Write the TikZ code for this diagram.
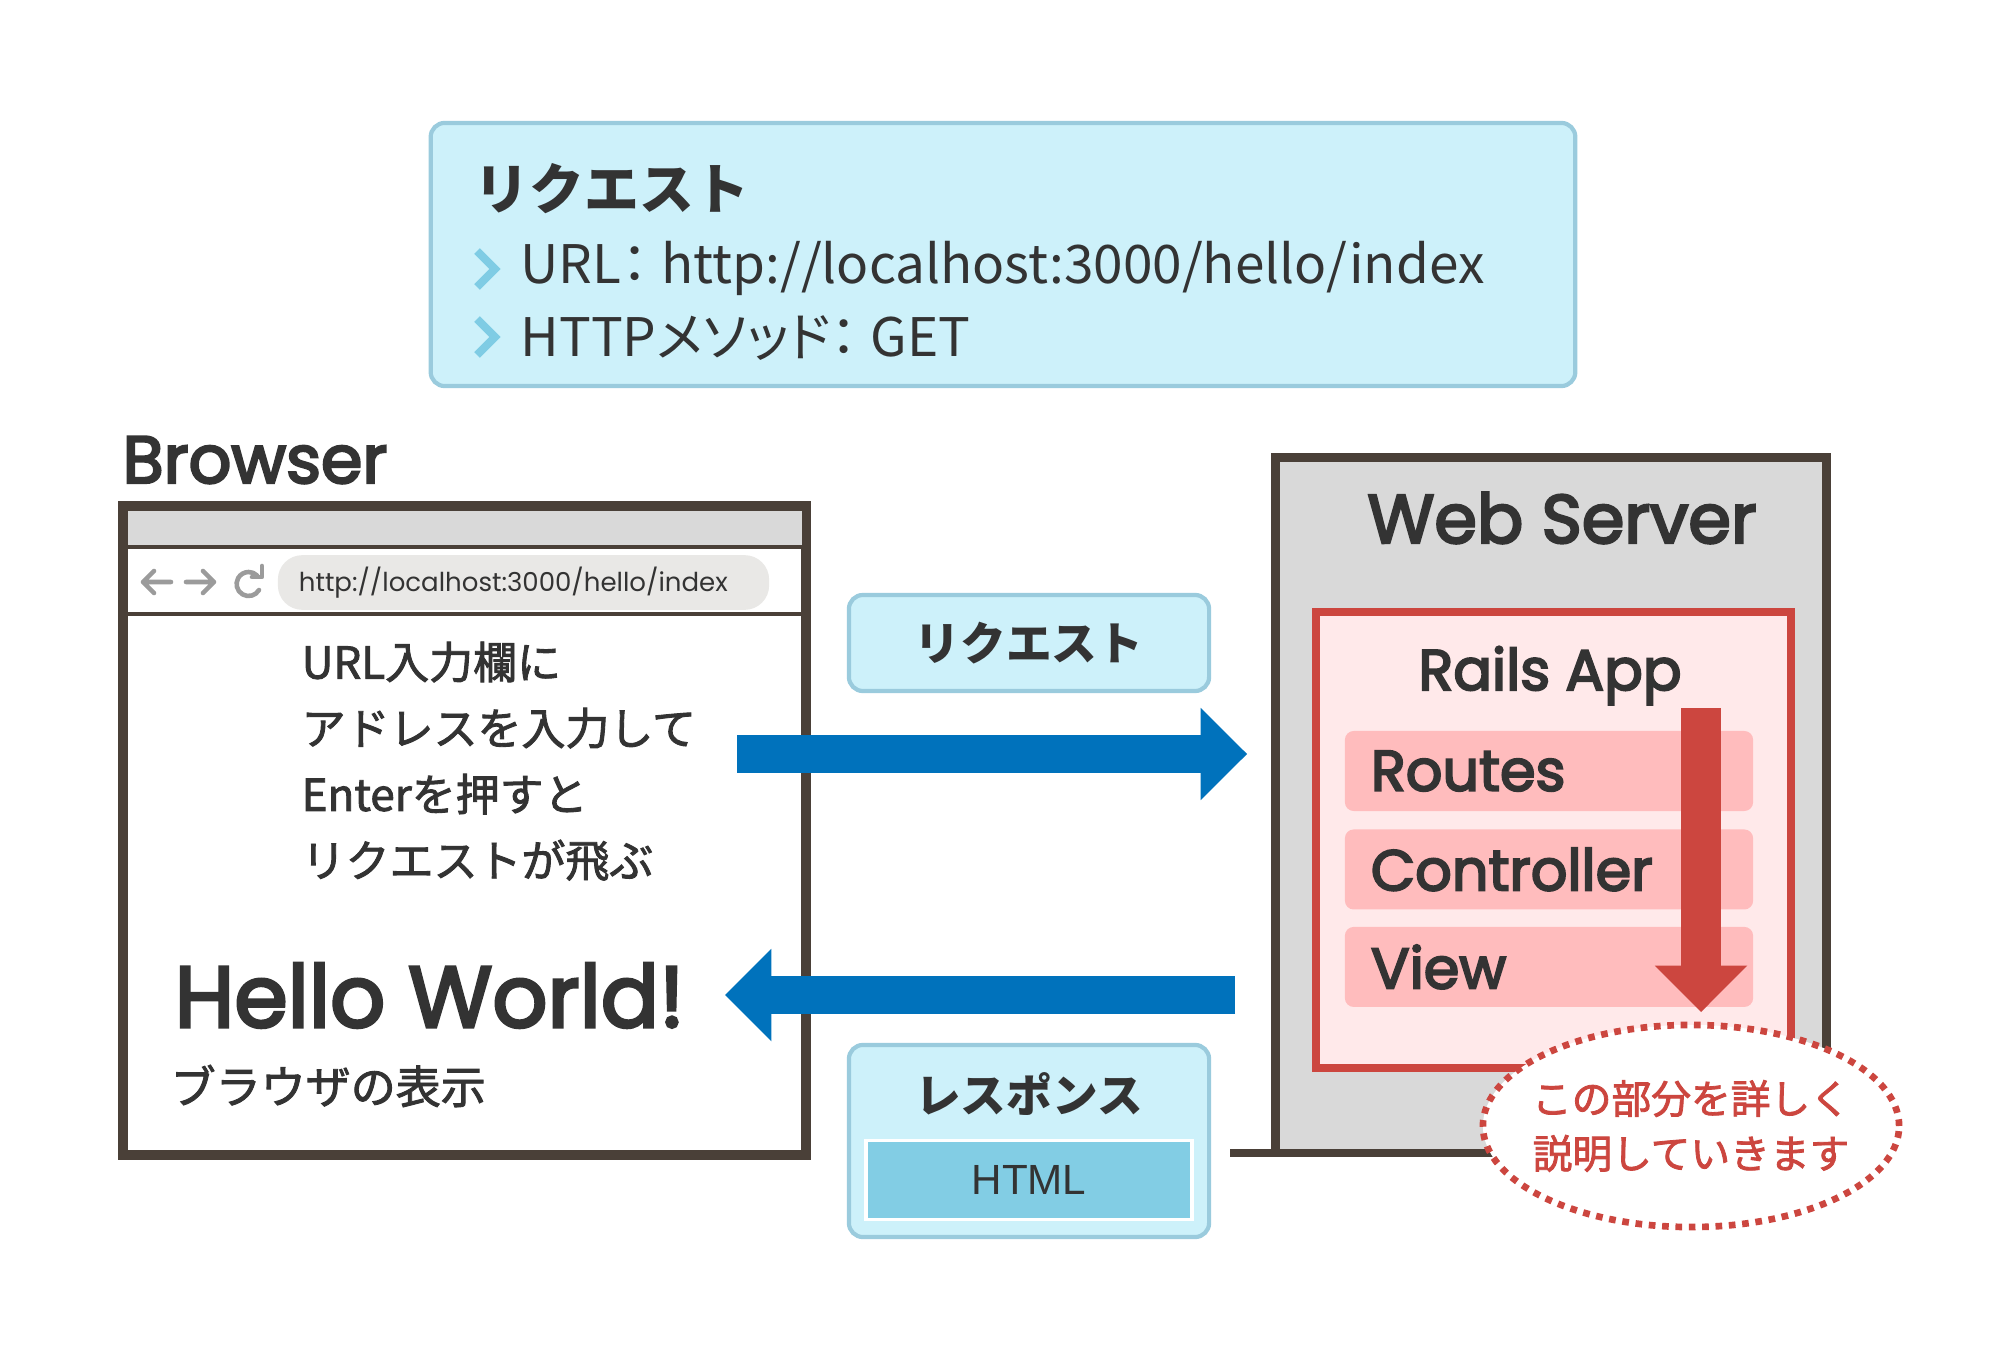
\documentclass[tikz,border=0pt]{standalone}
\usepackage{fontspec}
\setmainfont{Noto Sans CJK JP}
\newfontfamily\jpm{Noto Sans CJK JP}[FakeBold=2]
\newfontfamily\jpp{Noto Sans CJK JP}[RawFeature=+palt]
\newfontfamily\pop{Poppins}
\newfontfamily\popm{Poppins}[FakeBold=3.5]
\newfontfamily\lib{Liberation Sans}
\usetikzlibrary{arrows.meta,positioning,shapes.geometric}

\definecolor{ink}{HTML}{333333}
\definecolor{frame}{HTML}{4A4038}
\definecolor{panel}{HTML}{D9D9D9}
\definecolor{pill}{HTML}{E9E8E6}
\definecolor{navgray}{HTML}{9B9B9B}
\definecolor{sky}{HTML}{CDF1FA}
\definecolor{skyline}{HTML}{9ACBDD}
\definecolor{chev}{HTML}{7FCCE4}
\definecolor{htmlfill}{HTML}{82CDE4}
\definecolor{flow}{HTML}{0072BC}
\definecolor{rails}{HTML}{CC463F}
\definecolor{railsbg}{HTML}{FFE9EA}
\definecolor{layer}{HTML}{FFBCBD}

\tikzset{
  infobox/.style={draw=skyline, fill=sky, line width=1.2pt, rounded corners=4pt},
  chevron/.style={draw=chev, line width=2.3pt},
  navicon/.style={draw=navgray, line width=1.3pt, line cap=round, line join=round},
  layerbox/.style={fill=layer, rounded corners=2.5pt, minimum width=4.08cm, minimum height=0.8cm,
    text width=3.56cm, inner xsep=0.26cm, align=left, font=\popm\fontsize{16.3}{19}\selectfont},
  flowarrow/.style={draw=flow, line width=10.9pt, -{Triangle[length=13.2pt, width=26.3pt, line width=0pt]}},
  note/.style={ellipse, draw=rails, fill=white, line width=1.9pt, dash pattern=on 1.9pt off 1.9pt,
    minimum width=4.16cm, minimum height=2.02cm, inner sep=0}
}

\begin{document}
\begin{tikzpicture}[x=0.01cm, y=-0.01cm, text=ink]
  \useasboundingbox (0,0) rectangle (2000,1358);

  \node[infobox, minimum width=11.44cm, minimum height=2.63cm] (reqinfo) at (1003,254.5) {};
  \node[anchor=west, inner sep=0, font=\bfseries\fontsize{15.6}{19}\selectfont] (reqtitle) at (474,189) {リクエスト};
  \draw[chevron] (477,251) -- (495,269) -- (477,287);
  \draw[chevron] (477,319) -- (495,337) -- (477,355);
  \node[anchor=west, inner sep=0, font=\jpp\fontsize{15.1}{17}\selectfont] (urlline) at (520,268) {URL：\hspace{0.25em}http://localhost:3000/hello/index};
  \node[anchor=west, inner sep=0, font=\jpp\fontsize{15.1}{17}\selectfont] (methodline) at (520,338) {HTTPメソッド：\hspace{0.25em}GET};

  \node[anchor=base west, inner sep=0, font=\popm\fontsize{19}{22}\selectfont] (blabel) at (122,483) {Browser};
  \node[draw=frame, line width=2.85pt, fill=white, minimum width=6.83cm, minimum height=6.49cm, inner sep=0] (browser) at (464.5,830.5) {};
  \fill[panel] (128,511) rectangle (802,547);
  \draw[frame, line width=0.9pt] (128,547) -- (802,547);
  \draw[frame, line width=0.9pt] (128,614) -- (802,614);
  \draw[navicon] (171,582) -- (143,582) (154,571) -- (143,582) -- (154,593);
  \draw[navicon] (186,582) -- (214,582) (203,571) -- (214,582) -- (203,593);
  \draw[navicon] (259,590) arc[start angle=30, end angle=315, radius=12];
  \draw[navicon] (262,566) -- (262,577) -- (252,577);
  \node[fill=pill, rounded corners=0.245cm, minimum width=4.91cm, minimum height=0.49cm,
    text width=4.49cm, inner xsep=0.21cm, align=left, font=\pop\fontsize{7.4}{9}\selectfont] (addr) at (523.5,582.5) {http://localhost:3000/hello/index};
  \node[anchor=north west, align=left, inner sep=0, font=\jpm\fontsize{12.5}{18.8}\selectfont] (howto) at (301,641) {URL入力欄に\\アドレスを入力して\\Enterを押すと\\リクエストが飛ぶ};
  \node[anchor=base west, inner sep=0, font=\popm\fontsize{24.5}{28}\selectfont] (hello) at (174,1027) {Hello World!};
  \node[anchor=west, inner sep=0, font=\jpm\fontsize{12.8}{15}\selectfont] (caption) at (170,1086) {ブラウザの表示};

  \node[fill=panel, minimum width=5.5cm, minimum height=6.95cm, inner sep=0] (server) at (1551,805.5) {};
  \draw[frame, line width=2.6pt] (server.south west) |- (server.north east) -- (server.south east);
  \draw[frame, line width=2.3pt] (1230,1153) -- (1880,1153);
  \node[anchor=base, inner sep=0, font=\popm\fontsize{19.5}{23}\selectfont] (slabel) at (1562,543) {Web Server};
  \node[draw=rails, fill=railsbg, line width=2.3pt, minimum width=4.75cm, minimum height=4.56cm, inner sep=0] (app) at (1553.5,840) {};
  \node[anchor=base, inner sep=0, font=\popm\fontsize{16.3}{19}\selectfont] (alabel) at (1550,690) {Rails App};
  \node[layerbox] (routes) at (1549,771) {Routes};
  \node[layerbox, below=0.17cm of routes] (controller) {Controller};
  \node[layerbox, below=0.16cm of controller] (view) {View};
  \coordinate (flowtop) at (1701,708);
  \coordinate (flowend) at (1701,1012);
  \draw[flowarrow, draw=rails, line width=11.4pt] (flowtop) -- (flowend);

  \node[note] (note) at (1691,1126) {};
  \node[align=center, text=rails, font=\jpm\fontsize{11.3}{15.6}\selectfont] (notetext) at (note.center) {この部分を詳しく\\説明していきます};

  \node[infobox, minimum width=3.6cm, minimum height=0.96cm, font=\bfseries\fontsize{13}{15}\selectfont] (reqlabel) at (1029,643) {リクエスト};
  \node[infobox, minimum width=3.6cm, minimum height=1.92cm] (resbox) at (1029,1141) {};
  \node[font=\bfseries\fontsize{13}{15}\selectfont] (reslabel) at (1029,1094) {レスポンス};
  \node[draw=white, line width=1.1pt, fill=htmlfill, minimum width=3.26cm, minimum height=0.79cm,
    font=\lib\fontsize{12}{14}\selectfont] (html) at (1029,1180) {HTML};

  \coordinate (reqstart) at (737,754);
  \coordinate (reqend) at (1247,754);
  \coordinate (resstart) at (1235,995);
  \coordinate (resend) at (725,995);
  \draw[flowarrow] (reqstart) -- (reqend);
  \draw[flowarrow] (resstart) -- (resend);
\end{tikzpicture}
\end{document}
